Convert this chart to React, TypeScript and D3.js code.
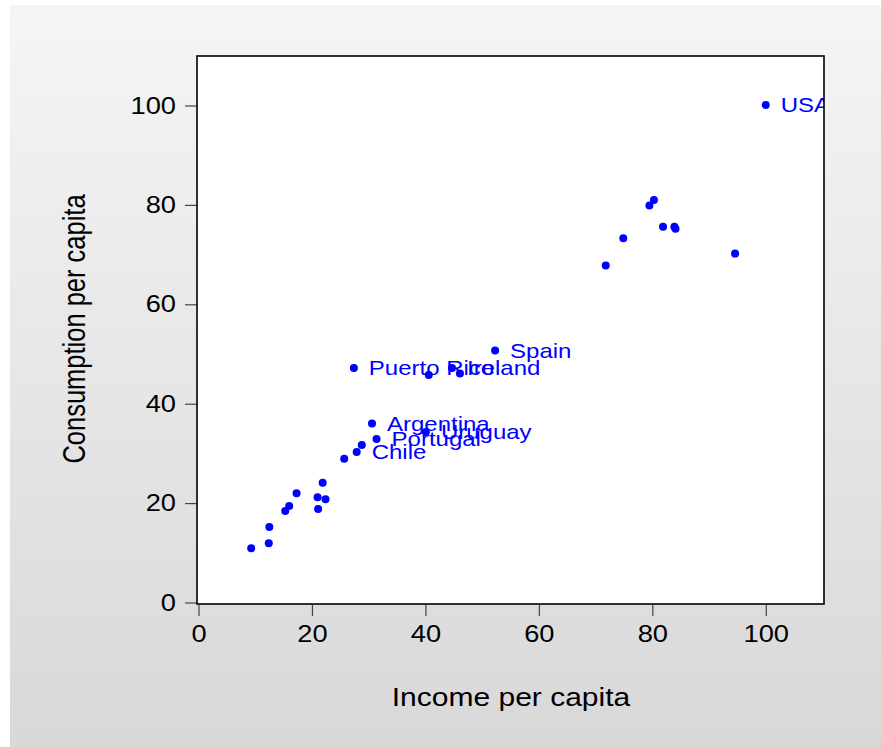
import React from "react";
import * as d3 from "d3";

const income = [9.2, 12.3, 12.4, 15.2, 15.9, 17.2, 20.9, 21.0, 21.8, 22.3, 25.6, 27.8, 28.7, 31.3, 30.5, 40.0, 27.3, 40.5, 44.6, 46.0, 52.2, 71.7, 74.8, 79.4, 80.2, 81.8, 83.8, 84.0, 94.5, 99.9];
const consumption = [11.0, 12.0, 15.3, 18.5, 19.5, 22.1, 21.3, 18.9, 24.2, 20.9, 29.0, 30.4, 31.8, 33.0, 36.1, 34.4, 47.3, 45.9, 47.3, 46.2, 50.8, 67.9, 73.4, 80.0, 81.1, 75.7, 75.7, 75.3, 70.3, 100.2];
const countries = ["", "", "", "", "", "", "", "", "", "", "", "Chile", "", "Portugal", "Argentina", "Uruguay", "Puerto Rico", "", "Ireland", "", "Spain", "", "", "", "", "", "", "", "", "USA"];
const xTicks = [0, 20, 40, 60, 80, 100];
const yTicks = [0, 20, 40, 60, 80, 100];

const W = 881;
const H = 747;
const box = { left: 197, top: 56, right: 824, bottom: 604 };
const FONT = "'Liberation Sans', Arial, Helvetica, sans-serif";
const SX = 1.16;

export default function App() {
  const x = d3.scaleLinear().domain([0, 110]).range([199, 823]);
  const y = d3.scaleLinear().domain([0, 110]).range([603, 56.3]);
  const pts = income.map((v, i) => ({ x: v, y: consumption[i], label: countries[i] }));

  return (
    <svg width={W} height={H} style={{ position: "absolute", left: 0, top: 0 }} xmlns="http://www.w3.org/2000/svg">
      <defs>
        <linearGradient id="bg" x1="0" y1="0" x2="0" y2="1">
          <stop offset="0" stopColor="#f5f5f5" />
          <stop offset="1" stopColor="#d8d8d8" />
        </linearGradient>
        <clipPath id="plotClip">
          <rect x={box.left} y={box.top} width={box.right - box.left} height={box.bottom - box.top} />
        </clipPath>
      </defs>
      <rect x={0} y={0} width={W} height={H} fill="#ffffff" />
      <rect x={10} y={5} width={W - 10} height={H - 5} fill="url(#bg)" />
      <rect x={box.left} y={box.top} width={box.right - box.left} height={box.bottom - box.top} fill="#ffffff" stroke="none" />

      {/* y ticks */}
      {yTicks.map((t) => (
        <g key={"y" + t}>
          <line x1={box.left - 12} x2={box.left} y1={y(t)} y2={y(t)} stroke="#444" strokeWidth={1.2} />
          <text
            transform={`translate(${box.left - 21},${y(t) + 7.5}) scale(${SX},1)`}
            textAnchor="end"
            fontFamily={FONT}
            fontSize={23.5}
            fill="#000"
          >
            {t}
          </text>
        </g>
      ))}
      {/* x ticks */}
      {xTicks.map((t) => (
        <g key={"x" + t}>
          <line x1={x(t)} x2={x(t)} y1={box.bottom + 1} y2={box.bottom + 12} stroke="#444" strokeWidth={1.2} />
          <text
            transform={`translate(${x(t)},${641.5}) scale(${SX},1)`}
            textAnchor="middle"
            fontFamily={FONT}
            fontSize={23.5}
            fill="#000"
          >
            {t}
          </text>
        </g>
      ))}

      <g clipPath="url(#plotClip)">
        {pts.map((p, i) => (
          <circle key={"c" + i} cx={x(p.x)} cy={y(p.y)} r={4} fill="#0000ff" />
        ))}
        {pts.map((p, i) =>
          p.label ? (
            <text
              key={"t" + i}
              transform={`translate(${x(p.x) + 15},${y(p.y) + 7}) scale(1.2,1)`}
              fontFamily={FONT}
              fontSize={20}
              fill="#0000ff"
            >
              {p.label}
            </text>
          ) : null
        )}
      </g>

      <rect x={box.left} y={box.top} width={box.right - box.left} height={box.bottom - box.top} fill="none" stroke="#000" strokeWidth={1.6} />

      <text
        transform={`translate(511,706) scale(1.2,1)`}
        textAnchor="middle"
        fontFamily={FONT}
        fontSize={25}
        fill="#000"
      >
        Income per capita
      </text>
      <text
        transform={`translate(85,329) scale(1.2,1) rotate(-90)`}
        textAnchor="middle"
        fontFamily={FONT}
        fontSize={25.5}
        fill="#000"
      >
        Consumption per capita
      </text>
    </svg>
  );
}
